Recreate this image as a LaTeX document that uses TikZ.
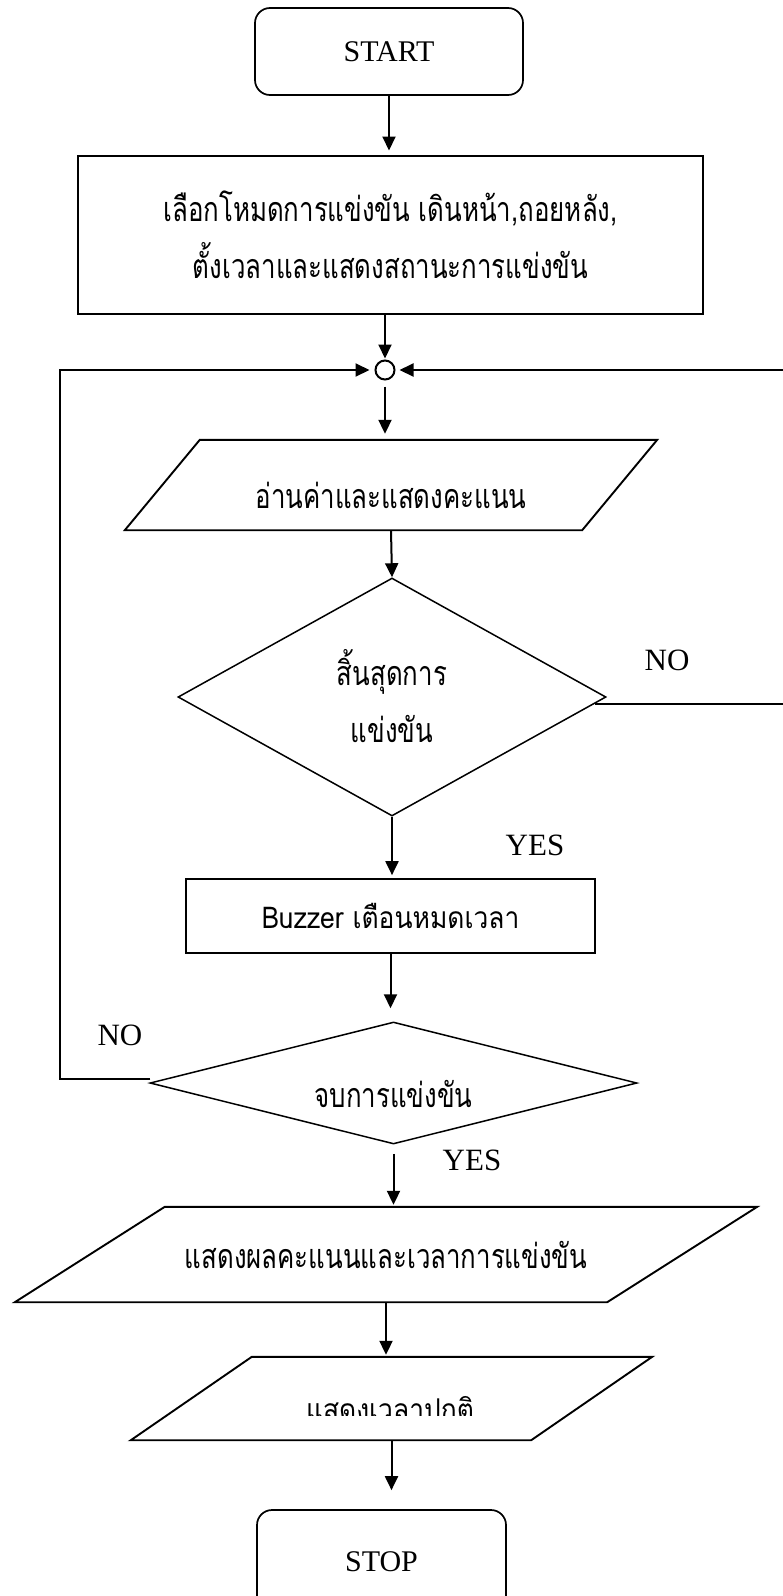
\documentclass[tikz,border=0pt]{standalone}
\usepackage{fontspec}
\usetikzlibrary{arrows.meta,shapes.geometric,calc}
\setmainfont{Liberation Serif}
\newfontfamily\thaifont[Script=Thai,FakeStretch=0.76]{Loma}
\newfontfamily\thaisans[Script=Thai,FakeStretch=0.88]{Loma}
% lower a label inside its shape without changing the shape's size
\newcommand{\lowerby}[2]{\raisebox{-#1}[\height][\depth]{#2}}

\begin{document}
\begin{tikzpicture}[x=1pt,y=-1pt,
  lbl/.style={font=\fontsize{31}{33}\selectfont, inner sep=0},
  th/.style={font=\thaifont\fontsize{34}{57}\selectfont, align=center},
  thsans/.style={font=\thaisans\fontsize{30}{34}\selectfont, align=center},
  term/.style={draw, line width=1.7pt, rounded corners=15pt, inner sep=0,
    minimum width=268pt, minimum height=87pt, font=\fontsize{30}{32}\selectfont},
  proc/.style={draw, line width=2pt, inner sep=0, th},
  iobox/.style={inner sep=0, th},
  ioline/.style={line width=1.9pt, line join=miter},
  dec/.style={draw, line width=1.5pt, diamond, inner sep=0, th},
  conn/.style={draw, circle, line width=2pt, minimum size=19pt, inner sep=0},
  flow/.style={line width=2pt, -{Triangle[length=14pt,width=13pt]}},
]
\useasboundingbox (0,0) rectangle (783,1596);

% --- shapes
\node[term] (start) at (389,51.5) {START};
\node[proc, minimum width=625pt, minimum height=158pt] (mode) at (390.5,234.5)
  {เลือกโหมดการแข่งขัน เดินหน้า,ถอยหลัง,\\ตั้งเวลาและแสดงสถานะการแข่งขัน};
\node[conn] (join) at (385,370) {};

\node[iobox, minimum width=532pt, minimum height=90pt] (read) at (391,485)
  {\lowerby{10pt}{อ่านค่าและแสดงคะแนน}};
\draw[ioline] ([xshift=75pt]read.north west) -- (read.north east)
  -- ([xshift=-75pt]read.south east) -- (read.south west) -- cycle;

\node[dec, aspect=1.8, minimum width=428pt, minimum height=238pt] (over) at (392,697)
  {\lowerby{6pt}{\begin{tabular}{@{}c@{}}สิ้นสุดการ\\แข่งขัน\end{tabular}}};
\node[proc, line width=1.7pt, minimum width=409pt, minimum height=74pt, thsans] (buzz)
  at (390.5,916) {Buzzer เตือนหมดเวลา};
\node[dec, aspect=4, minimum width=487pt, minimum height=122pt] (finish) at (393.5,1083)
  {\lowerby{11pt}{จบการแข่งขัน}};

\node[iobox, minimum width=742pt, minimum height=95pt] (result) at (386,1254.5)
  {แสดงผลคะแนนและเวลาการแข่งขัน};
\draw[ioline] ([xshift=150pt]result.north west) -- (result.north east)
  -- ([xshift=-150pt]result.south east) -- (result.south west) -- cycle;

\node[iobox, minimum width=521pt, minimum height=83pt] (clock) at (391.5,1398.5) {};
\draw[ioline] ([xshift=121pt]clock.north west) -- (clock.north east)
  -- ([xshift=-121pt]clock.south east) -- (clock.south west) -- cycle;
% the label of this box is cut off along its lower part
\begin{scope}
  \clip (130,1360) rectangle (660,1415);
  \node[thsans, inner sep=0, anchor=base] (clocktext) at (390,1420) {แสดงเวลาปกติ};
\end{scope}

\node[term, minimum width=249pt, minimum height=104pt] (stop) at (381.5,1562) {STOP};

% --- branch labels
\node[lbl] (no1) at (667,660) {NO};
\node[lbl] (yes1) at (535,845) {YES};
\node[lbl] (no2) at (120,1035) {NO};
\node[lbl] (yes2) at (472,1160) {YES};

% --- main flow
\draw[flow, shorten >=4pt] (start.south) -- (start.south |- mode.north);
\draw[flow, shorten >=1pt] (join.north |- mode.south) -- (join.north);
\draw[flow, shorten <=6pt, shorten >=6pt] (join.south) -- (join.south |- read.north);
\draw[flow] (read.south) -- (over.north);
\draw[flow, shorten >=3pt] (over.south) -- (over.south |- buzz.north);
\draw[flow, shorten >=13pt] (buzz.south) -- (buzz.south |- finish.north);
\draw[flow, shorten <=9pt, shorten >=2pt] (finish.south) -- (finish.south |- result.north);
\draw[flow, shorten >=2pt] (result.south) -- (result.south |- clock.north);
\draw[flow, shorten >=19pt] (clock.south) -- (clock.south |- stop.north);

% --- loops back to the junction
\coordinate (rturn) at (800,704);
\coordinate (lturn) at (60,1079);
\draw[flow, shorten >=4pt] ($(over.east)+(-12,7)$) -- (rturn) |- (join.east);
\draw[flow, shorten >=5pt] ($(finish.west)+(1,-4)$) -- (lturn) |- (join.west);
\end{tikzpicture}
\end{document}
